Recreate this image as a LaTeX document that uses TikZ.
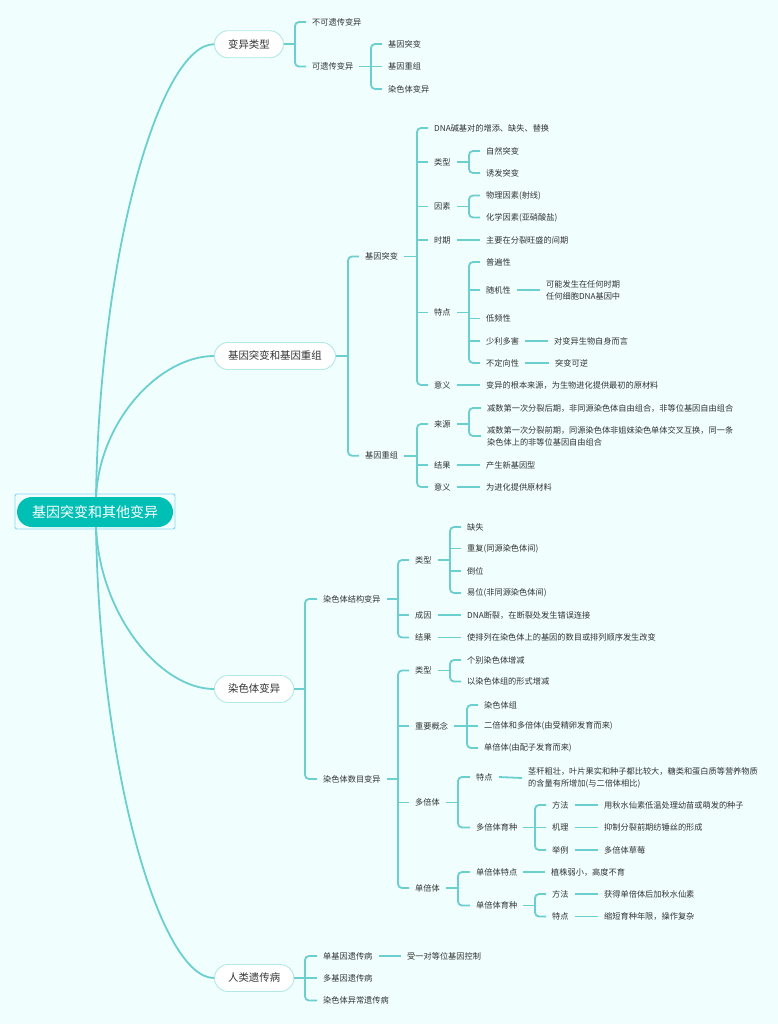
\documentclass[tikz,border=0pt]{standalone}
\usepackage{fontspec}
\setmainfont{Noto Sans CJK SC}
\definecolor{bgc}{HTML}{F0FEFE}
\definecolor{lc}{HTML}{6CCFCF}
\definecolor{rootfill}{HTML}{00BFB5}
\definecolor{rootframe}{HTML}{8AD4F5}
\definecolor{pillborder}{HTML}{B2E8E8}
\definecolor{tx}{HTML}{333333}
\newcommand\brk[5]{% #1 parent, #2 bracket x, #3 top child, #4 bottom child, #5 parent gap
  \coordinate (#1b) at (#1.east -| #2,0);
  \draw[rc] ([xshift=-6pt]#3.west) -| (#1b) |- ([xshift=-6pt]#4.west);
  \draw[ln] ([xshift=#5]#1.east) -- (#1b);}
\newcommand\midk[2]{\draw[ln] ([xshift=-6pt]#2.west) -- (#2.west -| #1b);}
\newcommand\onek[2]{\draw[ln] ([xshift=6pt]#1.east) -- ([xshift=-6pt]#2.west);}
\begin{document}
\begin{tikzpicture}[x=1pt,y=-1pt,
  lf/.style={anchor=west, inner sep=0pt, font=\fontsize{8.2}{12}\selectfont, text=tx, align=left},
  l1/.style={anchor=west, draw=pillborder, fill=white, line width=0.9pt, rounded corners=13.5pt,
    minimum height=27pt, inner xsep=13.7pt, inner ysep=0pt, font=\fontsize{10.4}{12}\selectfont, text=tx},
  ln/.style={draw=lc, line width=1.8pt},
  rc/.style={ln, rounded corners=4pt},
  maincurve/.style={draw=lc, line width=1.8pt}]
\fill[bgc] (0,0) rectangle (778,1024);
\useasboundingbox (0,0) rectangle (778,1024);

% root
\node[draw=rootframe, line width=0.9pt, rounded corners=2pt, minimum width=160pt, minimum height=35pt, inner sep=0pt] (rootframe) at (95,511.5) {};
\node[fill=rootfill, text=white, rounded corners=15pt, minimum width=156pt, minimum height=30pt, inner sep=0pt,
  font=\fontsize{14}{16}\selectfont] (root) at (95,512) {基因突变和其他变异};

% level 1
\node[l1] (A) at (214,44.25) {变异类型};
\node[l1] (B) at (214,356) {基因突变和基因重组};
\node[l1] (C) at (214,689) {染色体变异};
\node[l1] (D) at (214,978) {人类遗传病};

\draw[maincurve] ([xshift=1pt]root.north) .. controls +(4,-249) and +(-53,0) .. (A.west);
\draw[maincurve] ([xshift=1pt]root.north) .. controls +(4,-78) and +(-53,0) .. (B.west);
\draw[maincurve] ([xshift=1pt]root.south) .. controls +(4,89) and +(-53,0) .. (C.west);
\draw[maincurve] ([xshift=1pt]root.south) .. controls +(4,248) and +(-53,0) .. (D.west);

% A
\node[lf] (a1) at (312,22) {不可遗传变异};
\node[lf] (a2) at (312,66.5) {可遗传变异};
\node[lf] (a21) at (388,44) {基因突变};
\node[lf] (a22) at (388,66.5) {基因重组};
\node[lf] (a23) at (388,89) {染色体变异};
\brk{A}{295}{a1}{a2}{0pt}
\brk{a2}{371}{a21}{a23}{6pt}
\midk{a2}{a22}

% B
\node[lf] (b1) at (365,256.5) {基因突变};
\node[lf] (b2) at (365,455.75) {基因重组};
\node[lf] (b11) at (434,128) {DNA碱基对的增添、缺失、替换};
\node[lf] (b12) at (434,162) {类型};
\node[lf] (b13) at (434,206.5) {因素};
\node[lf] (b14) at (434,240) {时期};
\node[lf] (b15) at (434,312.5) {特点};
\node[lf] (b16) at (434,385) {意义};
\node[lf] (b121) at (486,151) {自然突变};
\node[lf] (b122) at (486,173) {诱发突变};
\node[lf] (b131) at (486,195.5) {物理因素(射线)};
\node[lf] (b132) at (486,217.5) {化学因素(亚硝酸盐)};
\node[lf] (b141) at (486,240) {主要在分裂旺盛的间期};
\node[lf] (b151) at (486,262) {普遍性};
\node[lf] (b152) at (486,290) {随机性};
\node[lf] (b153) at (486,318.5) {低频性};
\node[lf] (b154) at (486,341) {少利多害};
\node[lf] (b155) at (486,363) {不定向性};
\node[lf] (b1521) at (546,290) {可能发生在任何时期\\任何细胞DNA基因中};
\node[lf] (b1541) at (554,341) {对变异生物自身而言};
\node[lf] (b1551) at (555,363) {突变可逆};
\node[lf] (b161) at (486,385) {变异的根本来源，为生物进化提供最初的原材料};
\node[lf] (b21) at (434,424) {来源};
\node[lf] (b22) at (434,465) {结果};
\node[lf] (b23) at (434,487) {意义};
\node[lf] (b211) at (487,408) {减数第一次分裂后期，非同源染色体自由组合，非等位基因自由组合};
\node[lf] (b212) at (487,436) {减数第一次分裂前期，同源染色体非姐妹染色单体交叉互换，同一条\\染色体上的非等位基因自由组合};
\node[lf] (b221) at (486,465) {产生新基因型};
\node[lf] (b231) at (486,487) {为进化提供原材料};
\brk{B}{348}{b1}{b2}{0pt}
\brk{b1}{417}{b11}{b16}{6pt}
\midk{b1}{b12}\midk{b1}{b13}\midk{b1}{b14}\midk{b1}{b15}
\brk{b12}{469}{b121}{b122}{6pt}
\brk{b13}{469}{b131}{b132}{6pt}
\onek{b14}{b141}
\brk{b15}{469}{b151}{b155}{6pt}
\midk{b15}{b152}\midk{b15}{b153}\midk{b15}{b154}
\onek{b152}{b1521}
\onek{b154}{b1541}
\onek{b155}{b1551}
\onek{b16}{b161}
\brk{b2}{417}{b21}{b23}{6pt}
\midk{b2}{b22}
\brk{b21}{469}{b211}{b212}{6pt}
\onek{b22}{b221}
\onek{b23}{b231}

% C
\node[lf] (c1) at (323,599) {染色体结构变异};
\node[lf] (c2) at (323,779) {染色体数目变异};
\node[lf] (c11) at (415,560) {类型};
\node[lf] (c12) at (415,615) {成因};
\node[lf] (c13) at (415,637.5) {结果};
\node[lf] (c111) at (467,527) {缺失};
\node[lf] (c112) at (467,548.5) {重复(同源染色体间)};
\node[lf] (c113) at (467,571) {倒位};
\node[lf] (c114) at (467,593) {易位(非同源染色体间)};
\node[lf] (c121) at (467,615) {DNA断裂，在断裂处发生错误连接};
\node[lf] (c131) at (467,637.5) {使排列在染色体上的基因的数目或排列顺序发生改变};
\node[lf] (c21) at (415,670.5) {类型};
\node[lf] (c22) at (415,726) {重要概念};
\node[lf] (c23) at (415,802.5) {多倍体};
\node[lf] (c24) at (415,888) {单倍体};
\node[lf] (c211) at (467,660) {个别染色体增减};
\node[lf] (c212) at (467,681.5) {以染色体组的形式增减};
\node[lf] (c221) at (484,705) {染色体组};
\node[lf] (c222) at (484,726) {二倍体和多倍体(由受精卵发育而来)};
\node[lf] (c223) at (484,748) {单倍体(由配子发育而来)};
\node[lf] (c231) at (476,777) {特点};
\node[lf] (c232) at (476,827.5) {多倍体育种};
\node[lf] (c2311) at (528,778) {茎秆粗壮，叶片果实和种子都比较大，糖类和蛋白质等营养物质\\的含量有所增加(与二倍体相比)};
\node[lf] (c2321) at (552,805) {方法};
\node[lf] (c2322) at (552,827.5) {机理};
\node[lf] (c2323) at (552,850) {举例};
\node[lf] (c23211) at (604,805) {用秋水仙素低温处理幼苗或萌发的种子};
\node[lf] (c23221) at (604,827.5) {抑制分裂前期纺锤丝的形成};
\node[lf] (c23231) at (604,850) {多倍体草莓};
\node[lf] (c241) at (476,872) {单倍体特点};
\node[lf] (c242) at (476,905.5) {单倍体育种};
\node[lf] (c2411) at (551,872) {植株弱小，高度不育};
\node[lf] (c2421) at (552,894) {方法};
\node[lf] (c2422) at (552,916.5) {特点};
\node[lf] (c24211) at (604,894) {获得单倍体后加秋水仙素};
\node[lf] (c24221) at (604,916.5) {缩短育种年限，操作复杂};
\brk{C}{305}{c1}{c2}{0pt}
\brk{c1}{398}{c11}{c13}{6pt}
\midk{c1}{c12}
\brk{c11}{450}{c111}{c114}{6pt}
\midk{c11}{c112}\midk{c11}{c113}
\onek{c12}{c121}
\onek{c13}{c131}
\brk{c2}{398}{c21}{c24}{6pt}
\midk{c2}{c22}\midk{c2}{c23}
\brk{c21}{450}{c211}{c212}{6pt}
\brk{c22}{467}{c221}{c223}{6pt}
\midk{c22}{c222}
\brk{c23}{458}{c231}{c232}{6pt}
\onek{c231}{c2311}
\brk{c232}{535}{c2321}{c2323}{6pt}
\midk{c232}{c2322}
\onek{c2321}{c23211}
\onek{c2322}{c23221}
\onek{c2323}{c23231}
\brk{c24}{458}{c241}{c242}{6pt}
\onek{c241}{c2411}
\brk{c242}{535}{c2421}{c2422}{6pt}
\onek{c2421}{c24211}
\onek{c2422}{c24221}

% D
\node[lf] (d1) at (323,956) {单基因遗传病};
\node[lf] (d2) at (323,978) {多基因遗传病};
\node[lf] (d3) at (323,1000.5) {染色体异常遗传病};
\node[lf] (d11) at (407,956) {受一对等位基因控制};
\brk{D}{305}{d1}{d3}{0pt}
\midk{D}{d2}
\onek{d1}{d11}
\end{tikzpicture}
\end{document}
